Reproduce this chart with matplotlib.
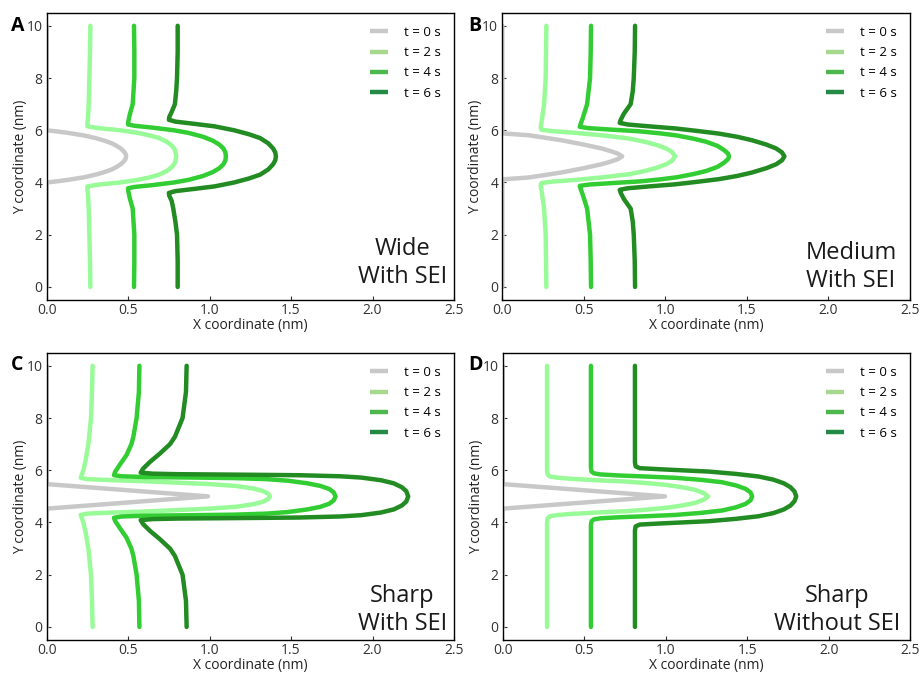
import matplotlib as mp
mp.use("Agg")
import matplotlib.pyplot as plt
from matplotlib.lines import Line2D

plt.rcParams.update({
    "font.family": ["Open Sans", "DejaVu Sans"],
    "font.size": 10,
    "axes.linewidth": 1.0,
    "xtick.direction": "in",
    "ytick.direction": "in",
    "xtick.major.size": 3,
    "ytick.major.size": 3,
    "xtick.color": "#333333",
    "ytick.color": "#333333",
})

labels = ["t = 0 s", "t = 2 s", "t = 4 s", "t = 6 s"]
line_cols = ["#c8c8c8", "#98fb98", "#32cd32", "#228b22"]
legend_cols = ["#c8c8c8", "#a6d88e", "#4db84d", "#238b45"]

# ---- panel A : wide, with SEI ----
A0_y = [10, 6.0, 5.95, 5.9, 5.8, 5.7, 5.6, 5.5, 5.4, 5.3, 5.2, 5.1, 5.0,
        4.9, 4.8, 4.7, 4.6, 4.5, 4.4, 4.3, 4.2, 4.1, 4.05, 4.0, 0]
A0_x = [0, 0, 0.07, 0.13, 0.23, 0.30, 0.355, 0.40, 0.43, 0.455, 0.472, 0.484, 0.488,
        0.484, 0.472, 0.455, 0.43, 0.40, 0.355, 0.30, 0.23, 0.13, 0.07, 0, 0]
A2_y = [10, 9, 8, 7, 6.5, 6.25, 6.15, 6.08, 6.0, 5.9, 5.8, 5.7, 5.55, 5.4, 5.25, 5.1, 5.0,
        4.9, 4.75, 4.6, 4.45, 4.3, 4.2, 4.1, 4.0, 3.92, 3.85, 3.75, 3.5, 3, 2, 1, 0]
A2_x = [0.268, 0.266, 0.262, 0.258, 0.254, 0.25, 0.25, 0.32, 0.45, 0.56, 0.635, 0.69, 0.74, 0.77, 0.787, 0.793, 0.795,
        0.793, 0.787, 0.77, 0.74, 0.69, 0.635, 0.56, 0.45, 0.32, 0.25, 0.25, 0.254, 0.258, 0.262, 0.266, 0.268]
A4_y = [10, 9, 8, 7, 6.6, 6.3, 6.22, 6.17, 6.1, 6.0, 5.9, 5.75, 5.6, 5.45, 5.3, 5.15, 5.0,
        4.85, 4.7, 4.55, 4.4, 4.25, 4.1, 4.0, 3.9, 3.83, 3.78, 3.7, 3.4, 3, 2, 1, 0]
A4_x = [0.536, 0.538, 0.538, 0.528, 0.51, 0.50, 0.50, 0.54, 0.65, 0.78, 0.87, 0.96, 1.02, 1.06, 1.085, 1.097, 1.10,
        1.097, 1.085, 1.06, 1.02, 0.96, 0.87, 0.78, 0.65, 0.54, 0.50, 0.50, 0.51, 0.528, 0.538, 0.538, 0.536]
A6_y = [10, 9, 8, 7.5, 7, 6.7, 6.5, 6.4, 6.33, 6.25, 6.15, 6.0, 5.85, 5.7, 5.5, 5.3, 5.15, 5.0,
        4.85, 4.7, 4.5, 4.3, 4.15, 4.0, 3.85, 3.75, 3.67, 3.6, 3.5, 3.3, 3, 2.5, 2, 1, 0]
A6_x = [0.804, 0.804, 0.80, 0.795, 0.787, 0.767, 0.752, 0.75, 0.79, 0.90, 1.03, 1.15, 1.24, 1.31, 1.36, 1.39, 1.403, 1.407,
        1.403, 1.39, 1.36, 1.31, 1.24, 1.15, 1.03, 0.90, 0.79, 0.75, 0.752, 0.767, 0.777, 0.79, 0.80, 0.804, 0.804]

# ---- panel B : medium, with SEI ----
B0_y = [10, 5.88, 5.81, 5.62, 5.45, 5.3, 5.2, 5.1, 5.0, 4.9, 4.8, 4.7, 4.55, 4.38, 4.19, 4.12, 0]
B0_x = [0, 0, 0.16, 0.36, 0.50, 0.61, 0.665, 0.71, 0.735, 0.71, 0.665, 0.61, 0.50, 0.36, 0.16, 0, 0]
B2_y = [10, 9, 8, 7, 6.5, 6.1, 6.02, 5.97, 5.9, 5.8, 5.68, 5.55, 5.43, 5.3, 5.17, 5.0,
        4.83, 4.7, 4.57, 4.45, 4.32, 4.2, 4.1, 4.03, 3.98, 3.9, 3.5, 3, 2, 1, 0]
B2_x = [0.27, 0.268, 0.266, 0.256, 0.245, 0.235, 0.24, 0.30, 0.45, 0.62, 0.78, 0.88, 0.95, 1.005, 1.04, 1.06,
        1.04, 1.005, 0.95, 0.88, 0.78, 0.62, 0.45, 0.30, 0.24, 0.235, 0.245, 0.256, 0.266, 0.268, 0.27]
B4_y = [10, 9, 8, 7, 6.5, 6.2, 6.13, 6.08, 6.02, 5.96, 5.88, 5.8, 5.68, 5.56, 5.4, 5.24, 5.1, 5.0,
        4.9, 4.76, 4.6, 4.44, 4.32, 4.2, 4.12, 4.04, 3.98, 3.92, 3.87, 3.8, 3.5, 3, 2, 1, 0]
B4_x = [0.544, 0.542, 0.538, 0.52, 0.495, 0.478, 0.475, 0.53, 0.68, 0.84, 0.97, 1.07, 1.17, 1.25, 1.32, 1.36, 1.385, 1.39,
        1.385, 1.36, 1.32, 1.25, 1.17, 1.07, 0.97, 0.84, 0.68, 0.53, 0.475, 0.478, 0.495, 0.52, 0.538, 0.542, 0.544]
B6_y = [10, 9, 8, 7.5, 7, 6.64, 6.4, 6.28, 6.22, 6.15, 6.07, 5.97, 5.87, 5.75, 5.62, 5.45, 5.3, 5.15, 5.0,
        4.85, 4.7, 4.55, 4.38, 4.25, 4.13, 4.03, 3.93, 3.85, 3.78, 3.72, 3.6, 3.36, 3, 2.5, 2, 1, 0]
B6_x = [0.814, 0.812, 0.806, 0.80, 0.787, 0.746, 0.726, 0.72, 0.77, 0.90, 1.06, 1.20, 1.33, 1.44, 1.53, 1.62, 1.68, 1.715, 1.73,
        1.715, 1.68, 1.62, 1.53, 1.44, 1.33, 1.20, 1.06, 0.90, 0.77, 0.72, 0.726, 0.746, 0.787, 0.80, 0.806, 0.812, 0.814]

# ---- panel C : sharp, with SEI ----
C0_y = [10, 5.47, 5.0, 4.53, 0]
C0_x = [0, 0, 0.99, 0, 0]
C2_y = [10, 9, 8, 7, 6.4, 6.0, 5.71, 5.66, 5.62, 5.58, 5.54, 5.47, 5.4, 5.3, 5.2, 5.1, 5.0,
        4.9, 4.8, 4.7, 4.6, 4.53, 4.46, 4.42, 4.38, 4.34, 4.29, 4.0, 3.6, 3, 2, 1, 0]
C2_x = [0.282, 0.278, 0.272, 0.256, 0.24, 0.225, 0.209, 0.25, 0.40, 0.60, 0.75, 1.00, 1.16, 1.27, 1.33, 1.36, 1.37,
        1.36, 1.33, 1.27, 1.16, 1.00, 0.75, 0.60, 0.40, 0.25, 0.209, 0.225, 0.24, 0.256, 0.272, 0.278, 0.282]
C4_y = [10, 9, 8, 7.28, 7, 6.58, 6.26, 5.94, 5.81, 5.77, 5.74, 5.72, 5.70, 5.66, 5.60, 5.5, 5.4, 5.28, 5.15, 5.0,
        4.85, 4.72, 4.6, 4.5, 4.4, 4.34, 4.3, 4.28, 4.26, 4.23, 4.18, 4.06, 3.74, 3.42, 3, 2.72, 2, 1, 0]
C4_x = [0.569, 0.566, 0.552, 0.532, 0.52, 0.49, 0.454, 0.42, 0.413, 0.46, 0.60, 0.90, 1.15, 1.35, 1.48, 1.60, 1.68, 1.735, 1.762, 1.773,
        1.762, 1.735, 1.68, 1.60, 1.48, 1.35, 1.15, 0.90, 0.60, 0.46, 0.413, 0.42, 0.454, 0.49, 0.52, 0.532, 0.552, 0.566, 0.569]
C6_y = [10, 9, 8, 7.28, 7, 6.64, 6.32, 6.07, 5.91, 5.87, 5.85, 5.83, 5.81, 5.77, 5.72, 5.62, 5.5, 5.35, 5.2, 5.0,
        4.8, 4.65, 4.5, 4.38, 4.28, 4.23, 4.19, 4.17, 4.15, 4.13, 4.09, 3.93, 3.68, 3.36, 3, 2.72, 2, 1, 0]
C6_x = [0.859, 0.855, 0.834, 0.787, 0.757, 0.695, 0.634, 0.593, 0.577, 0.65, 0.80, 1.20, 1.55, 1.80, 1.93, 2.05, 2.13, 2.18, 2.207, 2.219,
        2.207, 2.18, 2.13, 2.05, 1.93, 1.80, 1.55, 1.20, 0.80, 0.65, 0.577, 0.593, 0.634, 0.695, 0.757, 0.787, 0.834, 0.855, 0.859]

# ---- panel D : sharp, without SEI ----
D0_y = [10, 5.47, 5.0, 4.53, 0]
D0_x = [0, 0, 0.995, 0, 0]
D2_y = [10, 6.0, 5.85, 5.76, 5.72, 5.68, 5.62, 5.57, 5.5, 5.44, 5.35, 5.25, 5.12, 5.0,
        4.88, 4.75, 4.65, 4.56, 4.5, 4.43, 4.38, 4.32, 4.28, 4.24, 4.15, 4.0, 0]
D2_x = [0.272, 0.272, 0.275, 0.29, 0.33, 0.40, 0.57, 0.75, 0.90, 1.00, 1.10, 1.18, 1.235, 1.26,
        1.235, 1.18, 1.10, 1.00, 0.90, 0.75, 0.57, 0.40, 0.33, 0.29, 0.275, 0.272, 0.272]
D4_y = [10, 6.1, 5.95, 5.88, 5.84, 5.8, 5.76, 5.71, 5.63, 5.54, 5.42, 5.29, 5.15, 5.0,
        4.85, 4.71, 4.58, 4.46, 4.37, 4.29, 4.24, 4.2, 4.16, 4.12, 4.05, 3.9, 0]
D4_x = [0.541, 0.541, 0.545, 0.56, 0.60, 0.713, 0.88, 1.06, 1.22, 1.346, 1.43, 1.489, 1.52, 1.53,
        1.52, 1.489, 1.43, 1.346, 1.22, 1.06, 0.88, 0.713, 0.60, 0.56, 0.545, 0.541, 0.541]
D6_y = [10, 6.3, 6.15, 6.08, 6.04, 5.95, 5.86, 5.76, 5.64, 5.5, 5.35, 5.18, 5.0,
        4.82, 4.65, 4.5, 4.36, 4.24, 4.14, 4.05, 3.96, 3.92, 3.85, 3.7, 0]
D6_x = [0.811, 0.811, 0.815, 0.84, 0.958, 1.264, 1.43, 1.57, 1.66, 1.724, 1.765, 1.79, 1.80,
        1.79, 1.765, 1.724, 1.66, 1.57, 1.43, 1.264, 0.958, 0.84, 0.815, 0.811, 0.811]

panels = [
    ("A", [(A0_x, A0_y), (A2_x, A2_y), (A4_x, A4_y), (A6_x, A6_y)], "Wide\nWith SEI"),
    ("B", [(B0_x, B0_y), (B2_x, B2_y), (B4_x, B4_y), (B6_x, B6_y)], "Medium\nWith SEI"),
    ("C", [(C0_x, C0_y), (C2_x, C2_y), (C4_x, C4_y), (C6_x, C6_y)], "Sharp\nWith SEI"),
    ("D", [(D0_x, D0_y), (D2_x, D2_y), (D4_x, D4_y), (D6_x, D6_y)], "Sharp\nWithout SEI"),
]

# axes boxes in figure fraction (left, bottom, width, height)
boxes = [(0.0508, 0.5542, 0.4432, 0.4269), (0.5466, 0.5542, 0.4436, 0.4269),
         (0.0508, 0.0490, 0.4432, 0.4269), (0.5470, 0.0490, 0.4436, 0.4269)]
# text anchor (x, y) in axes fraction
text_pos = [(0.983, 0.059), (0.967, 0.046), (0.983, 0.035), (0.975, 0.035)]
letter_pos = [(0.012, 0.962), (0.509, 0.962), (0.012, 0.457), (0.509, 0.457)]

fig = plt.figure(figsize=(9.19, 6.73), dpi=100)

for (letter, curves, note), box, tp, lp in zip(panels, boxes, text_pos, letter_pos):
    ax = fig.add_axes(box)
    for (x, y), c in zip(curves, line_cols):
        ax.plot(x, y, color=c, lw=3.2, solid_capstyle="round", solid_joinstyle="round")
    ax.set_xlim(0, 2.5)
    ax.set_ylim(-0.5, 10.5)
    ax.set_xticks([0, 0.5, 1.0, 1.5, 2.0, 2.5])
    ax.set_yticks([0, 2, 4, 6, 8, 10])
    ax.tick_params(top=False, right=False, labelsize=10)
    ax.tick_params(axis="x", pad=2)
    ax.tick_params(axis="y", pad=3)
    ax.set_xlabel("X coordinate (nm)", fontsize=10, labelpad=0.5, color="#222222")
    ax.set_ylabel("Y coordinate (nm)", fontsize=10, labelpad=-1, color="#222222")

    handles = [Line2D([], [], color=c, lw=3.2, solid_capstyle="butt") for c in legend_cols]
    ax.legend(handles, labels, loc="upper right", frameon=False, fontsize=9.5,
              handlelength=1.4, handletextpad=1.2, labelspacing=0.55, borderaxespad=0.6)

    ax.text(tp[0], tp[1], note, transform=ax.transAxes, ha="right", va="baseline",
            multialignment="center", fontsize=17, color="#1a1a1a")
    fig.text(lp[0], lp[1], letter, fontsize=14, fontweight="bold", va="center", ha="left")

fig.savefig("out.png", dpi=100)
